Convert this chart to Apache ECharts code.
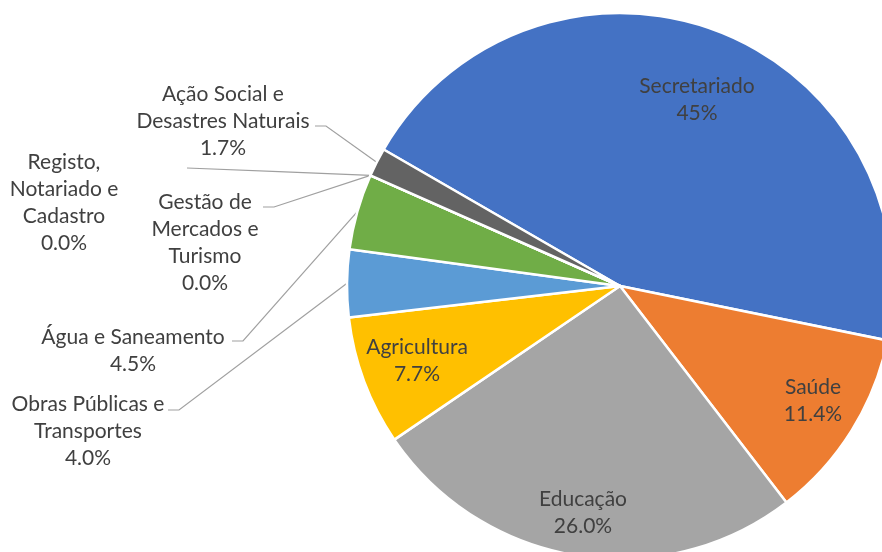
<!DOCTYPE html>
<html>
<head>
<meta charset="utf-8">
<script src="https://cdn.jsdelivr.net/npm/echarts@6/dist/echarts.min.js"></script>
<style>
  html, body { margin: 0; padding: 0; background: #fff; }
  #chart { width: 882px; height: 552px; }
</style>
</head>
<body>
<div id="chart"></div>
<script>
// data, clockwise from the top-left edge of Secretariado
const categories = [
  'Secretariado',
  'Saúde',
  'Educação',
  'Agricultura',
  'Obras Públicas e\nTransportes',
  'Água e Saneamento',
  'Gestão de\nMercados e\nTurismo',
  'Registo,\nNotariado e\nCadastro',
  'Ação Social e\nDesastres Naturais'
];
const shares = [45, 11.4, 26.0, 7.7, 4.0, 4.5, 0.0, 0.0, 1.7];
const shareDecimals = [0, 1, 1, 1, 1, 1, 1, 1, 1];

const colors = ['#4472C4', '#ED7D31', '#A5A5A5', '#FFC000', '#5B9BD5', '#70AD47', '#264478', '#9E480E', '#636363'];

// where each label sits (center x, top y); outside labels get a leader stub
const labelSpots = [
  { x: 697, y: 73 },
  { x: 813, y: 374 },
  { x: 583, y: 486 },
  { x: 417, y: 334 },
  { x: 88, y: 391, stub: [168, 410] },
  { x: 133, y: 324, stub: [232, 341] },
  { x: 205, y: 189, stub: [263, 207] },
  { x: 64, y: 149, stub: [187, 168], straight: true },
  { x: 223, y: 81, stub: [315, 126] }
];

const CX = 620, CY = 286, R = 273;
const START = 150;

const total = shares.reduce((a, b) => a + b, 0);
function edgePoint(idx) {
  let before = 0;
  for (let i = 0; i < idx; i++) before += shares[i];
  const mid = START - (before + shares[idx] / 2) / total * 360;
  const rad = mid * Math.PI / 180;
  return [CX + R * Math.cos(rad), CY - R * Math.sin(rad)];
}

const chart = echarts.init(document.getElementById('chart'));

chart.setOption({
  animation: false,
  backgroundColor: '#fff',
  series: [{
    type: 'pie',
    center: [CX, CY],
    radius: R,
    startAngle: START,
    clockwise: true,
    avoidLabelOverlap: false,
    minShowLabelAngle: 0,
    itemStyle: { borderColor: '#fff', borderWidth: 2.5 },
    label: {
      color: '#404040',
      fontFamily: 'Lato',
      fontSize: 21,
      lineHeight: 27,
      align: 'center',
      formatter: p => p.name + '\n' + shares[p.dataIndex].toFixed(shareDecimals[p.dataIndex]) + '%'
    },
    labelLine: {
      lineStyle: { color: '#A0A0A0', width: 1.2 }
    },
    labelLayout: function (params) {
      const i = params.dataIndex;
      const spot = labelSpots[i];
      const out = { x: spot.x, y: spot.y, align: 'center', verticalAlign: 'top' };
      if (spot.stub) {
        const p0 = edgePoint(i);
        const mid = spot.straight
          ? [(p0[0] + spot.stub[0]) / 2, (p0[1] + spot.stub[1]) / 2]
          : [spot.stub[0] + 11, spot.stub[1]];
        out.labelLinePoints = [p0, mid, spot.stub];
      }
      return out;
    },
    data: categories.map((name, i) => {
      const outside = !!labelSpots[i].stub;
      return {
        name: name,
        value: shares[i],
        itemStyle: { color: colors[i] },
        label: { position: outside ? 'outside' : 'inside' },
        labelLine: { show: outside }
      };
    })
  }]
});
</script>
</body>
</html>
